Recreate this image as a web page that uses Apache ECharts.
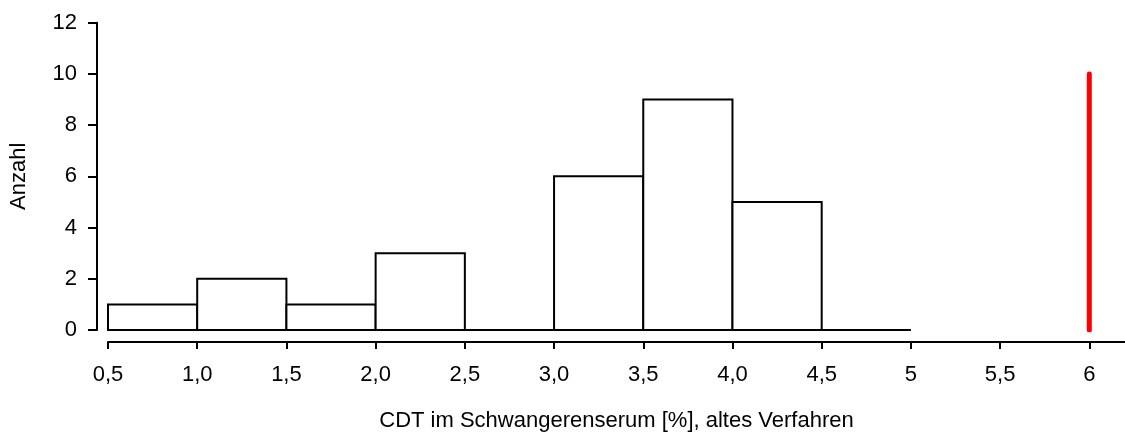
<!DOCTYPE html>
<html>
<head>
<meta charset="utf-8">
<script src="https://cdn.jsdelivr.net/npm/echarts@6/dist/echarts.min.js"></script>
<style>
  html, body { margin: 0; padding: 0; background: #fff; }
  #chart { width: 1125px; height: 437px; }
</style>
</head>
<body>
<div id="chart"></div>
<script>
// Histogram bins: [lower edge, upper edge] in % CDT
const binStarts = [0.5, 1.0, 1.5, 2.0, 2.5, 3.0, 3.5, 4.0, 4.5];
const binEnds   = [1.0, 1.5, 2.0, 2.5, 3.0, 3.5, 4.0, 4.5, 5.0];
const counts    = [1, 2, 1, 3, 0, 6, 9, 5, 0];

// Reference marker (cut-off) at 6 %
const markerX = 6;
const markerTop = 10;

// Axis ticks and their labels
const xTicks = [0.5, 1.0, 1.5, 2.0, 2.5, 3.0, 3.5, 4.0, 4.5, 5.0, 5.5, 6.0];
const xTickLabels = ['0,5', '1,0', '1,5', '2,0', '2,5', '3,0', '3,5', '4,0', '4,5', '5', '5,5', '6'];
const yTicks = [0, 2, 4, 6, 8, 10, 12];

const xTitle = 'CDT im Schwangerenserum [%], altes Verfahren';
const yTitle = 'Anzahl';

const FONT = 'Liberation Sans, Arial, sans-serif';
const FS = 22;

const histData = binStarts.map((s, i) => [s, binEnds[i], counts[i]]);

const chart = echarts.init(document.getElementById('chart'), null, { renderer: 'canvas' });
chart.setOption({
  animation: false,
  backgroundColor: '#fff',
  grid: { left: 107, right: 0, top: 22.7, bottom: 106, containLabel: false },
  xAxis: {
    type: 'value',
    min: 0.5,
    max: 6.2,
    offset: 12,
    name: xTitle,
    nameLocation: 'middle',
    nameGap: 68,
    nameMoveOverlap: false,
    nameTextStyle: { fontFamily: FONT, fontSize: FS, color: '#000' },
    axisLine: { show: true, onZero: false, lineStyle: { color: '#000', width: 2 } },
    axisTick: { show: true, length: 7, lineStyle: { color: '#000', width: 2 }, customValues: xTicks },
    axisLabel: {
      customValues: xTicks,
      margin: 22,
      fontFamily: FONT, fontSize: FS, color: '#000',
      formatter: v => {
        const i = xTicks.findIndex(t => Math.abs(t - v) < 1e-6);
        return i >= 0 ? xTickLabels[i] : '';
      }
    },
    splitLine: { show: false }
  },
  yAxis: {
    type: 'value',
    min: 0,
    max: 12,
    interval: 2,
    offset: 11,
    name: yTitle,
    nameLocation: 'middle',
    nameGap: 67,
    nameRotate: 90,
    nameMoveOverlap: false,
    nameTextStyle: { fontFamily: FONT, fontSize: FS, color: '#000' },
    axisLine: { show: true, onZero: false, lineStyle: { color: '#000', width: 2 } },
    axisTick: { show: true, length: 9, lineStyle: { color: '#000', width: 2 } },
    axisLabel: { margin: 20, fontFamily: FONT, fontSize: FS, color: '#000' },
    splitLine: { show: false }
  },
  series: [
    {
      type: 'custom',
      data: histData,
      encode: { x: [0, 1], y: 2 },
      clip: false,
      renderItem: (params, api) => {
        const p0 = api.coord([api.value(0), 0]);
        const p1 = api.coord([api.value(1), api.value(2)]);
        return {
          type: 'rect',
          shape: { x: p0[0], y: p1[1], width: p1[0] - p0[0], height: p0[1] - p1[1] },
          style: { fill: '#fff', stroke: '#000', lineWidth: 2 }
        };
      },
      z: 2
    },
    {
      type: 'line',
      data: [[markerX, 0], [markerX, markerTop]],
      symbol: 'none',
      lineStyle: { color: '#ff0000', width: 5, cap: 'round' },
      z: 3
    }
  ]
});
</script>
</body>
</html>
